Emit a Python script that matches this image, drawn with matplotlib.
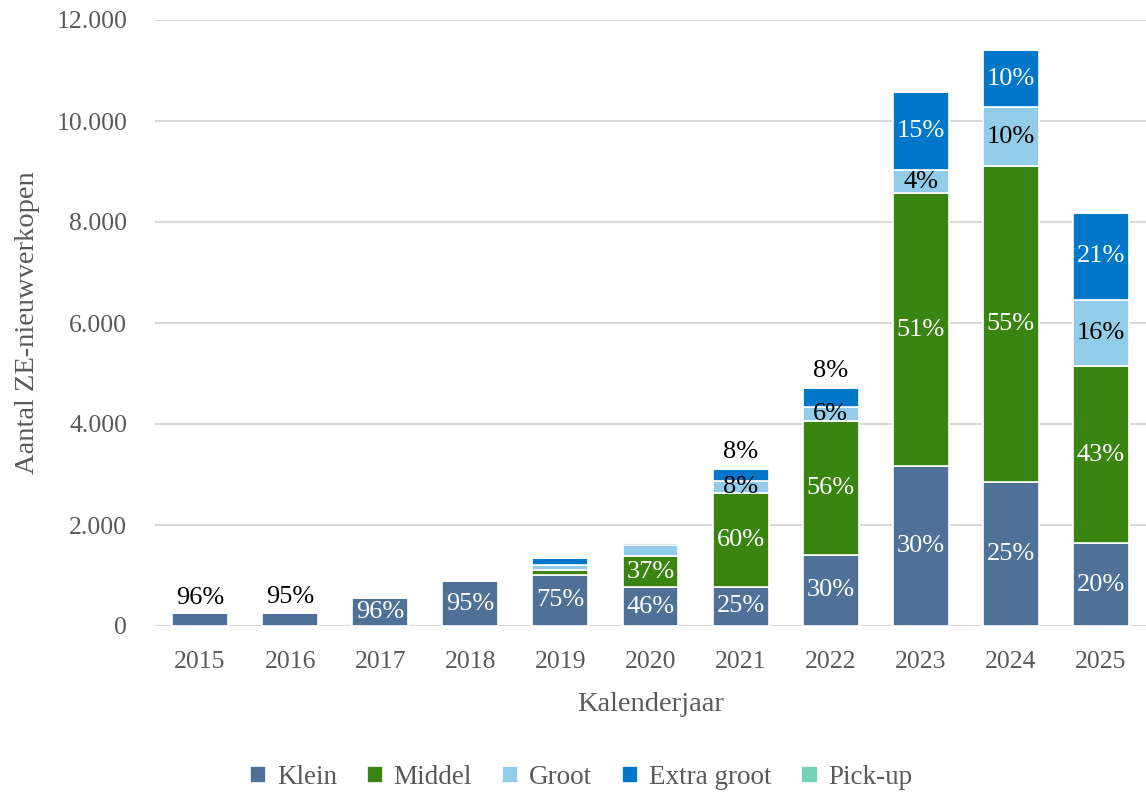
import numpy as np
import matplotlib.pyplot as plt

plt.rcParams['font.family'] = ['Liberation Serif', 'DejaVu Serif']

years = ['2015', '2016', '2017', '2018', '2019', '2020', '2021', '2022', '2023', '2024', '2025']

# aantallen per segment
klein = [250, 265, 552, 884, 1010, 765, 775, 1415, 3170, 2860, 1640]
middel = [3, 5, 8, 15, 100, 615, 1850, 2640, 5400, 6250, 3510]
groot = [2, 3, 6, 10, 90, 220, 240, 285, 450, 1160, 1310]
extra_groot = [5, 7, 9, 21, 140, 50, 245, 375, 1560, 1130, 1720]
pick_up = [0, 0, 0, 0, 10, 10, 5, 5, 20, 10, 10]

# percentage labels
klein_lbl = ['96%', '95%', '96%', '95%', '75%', '46%', '25%', '30%', '30%', '25%', '20%']
middel_lbl = ['', '', '', '', '', '37%', '60%', '56%', '51%', '55%', '43%']
groot_lbl = ['', '', '', '', '', '', '8%', '6%', '4%', '10%', '16%']
extra_lbl = ['', '', '', '', '', '', '8%', '8%', '15%', '10%', '21%']
klein_above = ['2015', '2016']
extra_above = ['2021', '2022']

colors = {'Klein': '#4f7197', 'Middel': '#3a8511', 'Groot': '#93cce8',
          'Extra groot': '#0077c8', 'Pick-up': '#76d2b6'}
txt_grey = '#595959'

fig = plt.figure(figsize=(11.46, 7.94), dpi=100)
ax = fig.add_axes([155 / 1146, 168 / 794, 991 / 1146, 606 / 794])

x = np.arange(len(years))
w = 0.62
series = [('Klein', klein), ('Middel', middel), ('Groot', groot),
          ('Extra groot', extra_groot), ('Pick-up', pick_up)]
bottom = np.zeros(len(years))
bottoms = {}
for name, vals in series:
    vals = np.array(vals, dtype=float)
    bottoms[name] = bottom.copy()
    ax.bar(x, vals, w, bottom=bottom, color=colors[name], edgecolor='white',
           linewidth=1.2, label=name, zorder=3)
    bottom = bottom + vals
totals = bottom

fs = 19
for i, yr in enumerate(years):
    # Klein
    if yr in klein_above:
        ax.annotate(klein_lbl[i], (x[i], klein[i]), xytext=(0, 3), textcoords='offset points',
                    ha='center', va='bottom', fontsize=fs, color='black', zorder=5)
    else:
        ax.text(x[i], klein[i] / 2, klein_lbl[i], ha='center', va='center',
                fontsize=fs, color='white', zorder=5)
    if middel_lbl[i]:
        ax.text(x[i], bottoms['Middel'][i] + middel[i] / 2, middel_lbl[i], ha='center',
                va='center', fontsize=fs, color='white', zorder=5)
    if groot_lbl[i]:
        ax.text(x[i], bottoms['Groot'][i] + groot[i] / 2, groot_lbl[i], ha='center',
                va='center', fontsize=fs, color='black', zorder=5)
    if extra_lbl[i]:
        if yr in extra_above:
            ax.annotate(extra_lbl[i], (x[i], totals[i]), xytext=(0, 4), textcoords='offset points',
                        ha='center', va='bottom', fontsize=fs, color='black', zorder=5)
        else:
            ax.text(x[i], bottoms['Extra groot'][i] + extra_groot[i] / 2, extra_lbl[i],
                    ha='center', va='center', fontsize=fs, color='white', zorder=5)

ax.set_xlim(-0.5, len(years) - 0.5)
ax.set_ylim(0, 12000)
ax.set_yticks(np.arange(0, 12001, 2000))
ax.set_yticklabels(['0' if v == 0 else f'{v:,}'.replace(',', '.') for v in range(0, 12001, 2000)])
ax.set_xticks(x)
ax.set_xticklabels(years)
ax.grid(axis='y', color='#d9d9d9', linewidth=1.5, zorder=0)
for s in ax.spines.values():
    s.set_visible(False)
ax.tick_params(axis='both', length=0, labelsize=18.5, colors=txt_grey)
ax.tick_params(axis='x', pad=18)
ax.tick_params(axis='y', pad=20)

ax.set_xlabel('Kalenderjaar', fontsize=20.5, color=txt_grey, labelpad=14)
ax.set_ylabel('Aantal ZE-nieuwverkopen', fontsize=20.5, color=txt_grey, labelpad=12)

ax.legend(loc='center', bbox_to_anchor=(0.43, -0.25), ncol=5, frameon=False,
          fontsize=19.5, handlelength=0.6, handleheight=0.6, handletextpad=0.4,
          columnspacing=1.1, labelcolor=txt_grey)

fig.savefig('out.png', dpi=100)
